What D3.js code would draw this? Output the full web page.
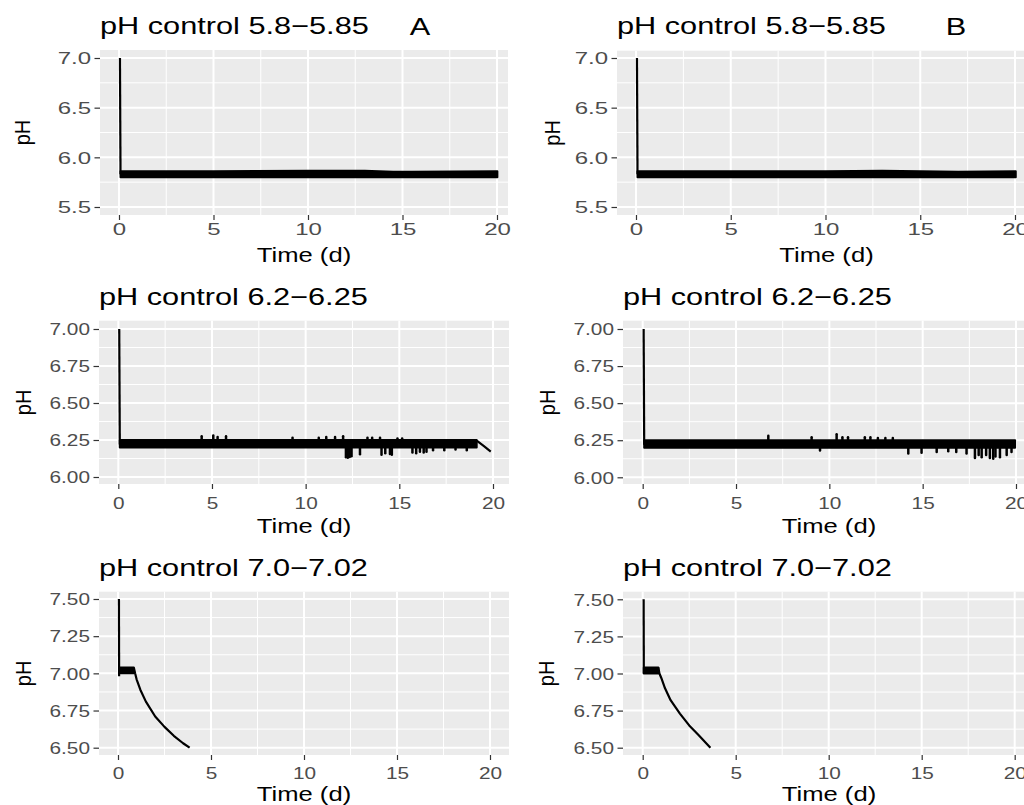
<!DOCTYPE html>
<html><head><meta charset="utf-8">
<script src="https://cdn.jsdelivr.net/npm/d3@7"></script>
<style>body{margin:0;background:#fff}svg{display:block}</style>
</head><body><svg id="c" width="1024" height="805"></svg>
<script>
// ---------------- DATA ----------------
const titles = ["pH control 5.8\u22125.85", "pH control 6.2\u22126.25", "pH control 7.0\u22127.02"];
const tags = ["A", "B"];
const xTicks = [0, 5, 10, 15, 20];
const yTicksRow1 = [5.5, 6.0, 6.5, 7.0];
const yTicksRow2 = [6.00, 6.25, 6.50, 6.75, 7.00];
const yTicksRow3 = [6.50, 6.75, 7.00, 7.25, 7.50];

// Panel A1 (5.8-5.85)
const spikeA1Time = [0.05, 0.08];
const spikeA1PH = [7.0, 5.83];
const bandA1Time = [0.08, 5, 10, 13, 14.5, 15.5, 20.02];
const bandA1Low = [5.80, 5.80, 5.80, 5.80, 5.80, 5.80, 5.80];
const bandA1High = [5.86, 5.86, 5.865, 5.865, 5.855, 5.855, 5.86];

// Panel B1 (5.8-5.85)
const spikeB1Time = [0.05, 0.08];
const spikeB1PH = [7.0, 5.83];
const bandB1Time = [0.08, 5, 10, 13, 15, 17, 20.04];
const bandB1Low = [5.80, 5.80, 5.80, 5.80, 5.80, 5.80, 5.80];
const bandB1High = [5.86, 5.86, 5.86, 5.865, 5.86, 5.855, 5.86];

// Panel A2 (6.2-6.25)
const spikeA2Time = [0.05, 0.08];
const spikeA2PH = [7.0, 6.22];
const bandA2Time = [0.08, 19.13];
const bandA2Low = [6.20, 6.20];
const bandA2High = [6.25, 6.25];
const tailA2Time = [19.13, 19.5, 19.88];
const tailA2PH = [6.245, 6.21, 6.172];
const excA2Time = [4.45, 5.07, 5.3, 5.75, 9.3, 10.7, 11.1, 11.57, 12.0, 12.15, 12.25, 12.35, 12.45, 12.9, 13.3, 13.55, 13.97, 14.05, 14.25, 14.5, 14.6, 14.9, 15.15, 15.7, 15.9, 16.1, 16.3, 16.45, 16.8, 17.4, 18.0, 18.6];
const excA2PH = [6.275, 6.28, 6.27, 6.275, 6.265, 6.265, 6.27, 6.27, 6.275, 6.133, 6.13, 6.135, 6.14, 6.153, 6.265, 6.265, 6.265, 6.15, 6.16, 6.155, 6.15, 6.26, 6.26, 6.165, 6.16, 6.17, 6.165, 6.17, 6.18, 6.18, 6.185, 6.18];

// Panel B2 (6.2-6.25)
const spikeB2Time = [0.05, 0.08];
const spikeB2PH = [7.0, 6.22];
const bandB2Time = [0.08, 19.95];
const bandB2Low = [6.20, 6.20];
const bandB2High = [6.25, 6.25];
const excB2Time = [6.73, 9.05, 9.5, 10.39, 10.7, 11.0, 11.9, 12.2, 12.6, 13.0, 13.4, 14.23, 14.94, 15.75, 16.37, 16.8, 17.35, 17.8, 18.0, 18.16, 18.4, 18.6, 18.78, 18.9, 19.14, 19.5, 19.76];
const excB2PH = [6.28, 6.27, 6.18, 6.29, 6.27, 6.27, 6.27, 6.27, 6.265, 6.265, 6.265, 6.16, 6.165, 6.17, 6.175, 6.17, 6.16, 6.13, 6.15, 6.135, 6.15, 6.13, 6.125, 6.14, 6.135, 6.15, 6.17];

// Panel A3 (7.0-7.02)
const spikeA3Time = [0.05, 0.06];
const spikeA3PH = [7.50, 6.98];
const bandA3Time = [0.06, 0.85];
const bandA3Low = [7.00, 7.00];
const bandA3High = [7.04, 7.04];
const curveA3Time = [0.85, 0.92, 1.0, 1.2, 1.5, 2.0, 2.5, 3.0, 3.5, 3.85];
const curveA3PH = [7.04, 7.00, 6.96, 6.89, 6.81, 6.71, 6.64, 6.58, 6.53, 6.50];

// Panel B3 (7.0-7.02)
const spikeB3Time = [0.05, 0.06];
const spikeB3PH = [7.50, 7.00];
const bandB3Time = [0.06, 0.84];
const bandB3Low = [7.00, 7.00];
const bandB3High = [7.04, 7.04];
const curveB3Time = [0.84, 0.9, 1.0, 1.2, 1.5, 2.0, 2.5, 3.0, 3.64];
const curveB3PH = [7.04, 7.00, 6.97, 6.90, 6.82, 6.73, 6.65, 6.585, 6.50];

// ---------------- LAYOUT ----------------
const FONT = "'Liberation Sans', Arial, Helvetica, sans-serif";
const SX = 1.28;
const panels = [
  {title: titles[0], tag: tags[0], tagX: 420, L: 100, R: 508, T: 50, B: 215, x0: 119, x20: 497, yt: yTicksRow1, ypx: [207, 58], fmt: ".1f", titleY: 34, tickLabY: 235, axTitleY: 261.7, pHx: 25, tickSX: 1.5,
   bands: [[bandA1Time, bandA1Low, bandA1High]], lines: [[spikeA1Time, spikeA1PH]], exc: null},
  {title: titles[0], tag: tags[1], tagX: 956, L: 617, R: 1036, T: 50.7, B: 215, x0: 636, x20: 1015, yt: yTicksRow1, ypx: [207, 58], fmt: ".1f", titleY: 34, tickLabY: 235, axTitleY: 261.7, pHx: 555, tickSX: 1.5,
   bands: [[bandB1Time, bandB1Low, bandB1High]], lines: [[spikeB1Time, spikeB1PH]], exc: null},
  {title: titles[1], L: 99, R: 509, T: 320.7, B: 484, x0: 118.3, x20: 493, yt: yTicksRow2, ypx: [477, 329], fmt: ".2f", titleY: 305, tickLabY: 509, axTitleY: 533, pHx: 25.5, tickSX: 1.3,
   bands: [[bandA2Time, bandA2Low, bandA2High]], lines: [[spikeA2Time, spikeA2PH], [tailA2Time, tailA2PH]], exc: [excA2Time, excA2PH]},
  {title: titles[1], L: 623, R: 1035, T: 320.7, B: 484, x0: 642.7, x20: 1016, yt: yTicksRow2, ypx: [477.3, 329], fmt: ".2f", titleY: 305, tickLabY: 509, axTitleY: 533, pHx: 550, tickSX: 1.3,
   bands: [[bandB2Time, bandB2Low, bandB2High]], lines: [[spikeB2Time, spikeB2PH]], exc: [excB2Time, excB2PH]},
  {title: titles[2], L: 99, R: 509, T: 591.7, B: 755, x0: 118, x20: 490, yt: yTicksRow3, ypx: [747.7, 599], fmt: ".2f", titleY: 576, tickLabY: 779, axTitleY: 800.5, pHx: 25.5, tickSX: 1.3,
   bands: [[bandA3Time, bandA3Low, bandA3High]], lines: [[spikeA3Time, spikeA3PH], [curveA3Time, curveA3PH]], exc: null},
  {title: titles[2], L: 623, R: 1035, T: 591.7, B: 755, x0: 642.7, x20: 1014.7, yt: yTicksRow3, ypx: [747.7, 599.3], fmt: ".2f", titleY: 576, tickLabY: 779, axTitleY: 800.5, pHx: 549, tickSX: 1.3,
   bands: [[bandB3Time, bandB3Low, bandB3High]], lines: [[spikeB3Time, spikeB3PH], [curveB3Time, curveB3PH]], exc: null}
];

const svg = d3.select("#c");
svg.append("rect").attr("width", 1024).attr("height", 805).attr("fill", "#fff");

function stretchedText(g, x, y, txt, size, sx, anchor, color) {
  return g.append("text")
    .attr("transform", `translate(${x},${y}) scale(${sx},1)`)
    .attr("text-anchor", anchor)
    .attr("font-family", FONT)
    .attr("font-size", size)
    .attr("fill", color)
    .text(txt);
}

panels.forEach((p, i) => {
  const g = svg.append("g");
  const x = d3.scaleLinear().domain([0, 20]).range([p.x0, p.x20]);
  const y = d3.scaleLinear().domain([p.yt[0], p.yt[p.yt.length - 1]]).range(p.ypx);

  g.append("rect").attr("x", p.L).attr("y", p.T).attr("width", p.R - p.L).attr("height", p.B - p.T).attr("fill", "#EBEBEB");

  const xMinor = xTicks.slice(1).map((v, k) => (v + xTicks[k]) / 2);
  const yMinor = p.yt.slice(1).map((v, k) => (v + p.yt[k]) / 2);
  g.selectAll(null).data(xMinor).join("line")
    .attr("x1", d => x(d)).attr("x2", d => x(d)).attr("y1", p.T).attr("y2", p.B)
    .attr("stroke", "#fff").attr("stroke-width", 1);
  g.selectAll(null).data(yMinor).join("line")
    .attr("x1", p.L).attr("x2", p.R).attr("y1", d => y(d)).attr("y2", d => y(d))
    .attr("stroke", "#fff").attr("stroke-width", 1);
  g.selectAll(null).data(xTicks).join("line")
    .attr("x1", d => x(d)).attr("x2", d => x(d)).attr("y1", p.T).attr("y2", p.B)
    .attr("stroke", "#fff").attr("stroke-width", 2);
  g.selectAll(null).data(p.yt).join("line")
    .attr("x1", p.L).attr("x2", p.R).attr("y1", d => y(d)).attr("y2", d => y(d))
    .attr("stroke", "#fff").attr("stroke-width", 2);

  const clipId = "clip" + i;
  svg.append("clipPath").attr("id", clipId).append("rect")
    .attr("x", p.L).attr("y", p.T).attr("width", p.R - p.L).attr("height", p.B - p.T);
  const dg = g.append("g").attr("clip-path", `url(#${clipId})`);
  p.bands.forEach(([ts, lo, hi]) => {
    const area = d3.area().x((d, k) => x(ts[k])).y0((d, k) => y(lo[k])).y1((d, k) => y(hi[k]));
    dg.append("path").attr("d", area(ts)).attr("fill", "#000").attr("stroke", "#000").attr("stroke-width", 2).attr("stroke-linejoin", "round");
  });
  if (p.exc) {
    const [ts, ph] = p.exc;
    const mid = (p.bands[0][1][0] + p.bands[0][2][0]) / 2;
    dg.selectAll(null).data(ts).join("line")
      .attr("x1", (d, k) => x(ts[k])).attr("x2", (d, k) => x(ts[k]))
      .attr("y1", y(mid)).attr("y2", (d, k) => y(ph[k]))
      .attr("stroke", "#000").attr("stroke-width", 2.5).attr("stroke-linecap", "round");
  }
  p.lines.forEach(([ts, ph]) => {
    const line = d3.line().x((d, k) => x(ts[k])).y((d, k) => y(ph[k]));
    dg.append("path").attr("d", line(ts)).attr("fill", "none").attr("stroke", "#000").attr("stroke-width", 2.2).attr("stroke-linejoin", "round");
  });

  const ax = g.append("g").attr("transform", `translate(0,${p.B})`)
    .call(d3.axisBottom(x).tickValues(xTicks).tickSize(5).tickSizeOuter(0).tickFormat(d3.format("d")));
  const ay = g.append("g").attr("transform", `translate(${p.L},0)`)
    .call(d3.axisLeft(y).tickValues(p.yt).tickSize(5.5).tickSizeOuter(0).tickFormat(d3.format(p.fmt)));
  [ax, ay].forEach(a => {
    a.select(".domain").remove();
    a.selectAll(".tick line").attr("stroke", "#333").attr("stroke-width", 1.2);
    a.selectAll(".tick text").attr("font-family", FONT).attr("font-size", 16).attr("fill", "#4D4D4D");
  });
  ax.selectAll(".tick text").attr("y", 0).attr("dy", null)
    .attr("transform", `translate(0,${p.tickLabY - p.B}) scale(${p.tickSX},1)`);
  ay.selectAll(".tick text").attr("x", 0).attr("dy", "0.36em")
    .attr("transform", `translate(-9,0) scale(${p.tickSX},1)`);

  stretchedText(g, p.L, p.titleY, p.title, 24, SX, "start", "#000");
  if (p.tag) stretchedText(g, p.tagX, p.titleY + 1, p.tag, 24, SX, "middle", "#000");
  stretchedText(g, (p.L + p.R) / 2, p.axTitleY, "Time (d)", 20, SX, "middle", "#000");
  g.append("text")
    .attr("transform", `translate(${p.pHx + 5},${(p.T + p.B) / 2}) scale(1.1,1) rotate(-90)`)
    .attr("text-anchor", "middle").attr("font-family", FONT).attr("font-size", 20).attr("fill", "#000")
    .text("pH");
});
</script></body></html>
